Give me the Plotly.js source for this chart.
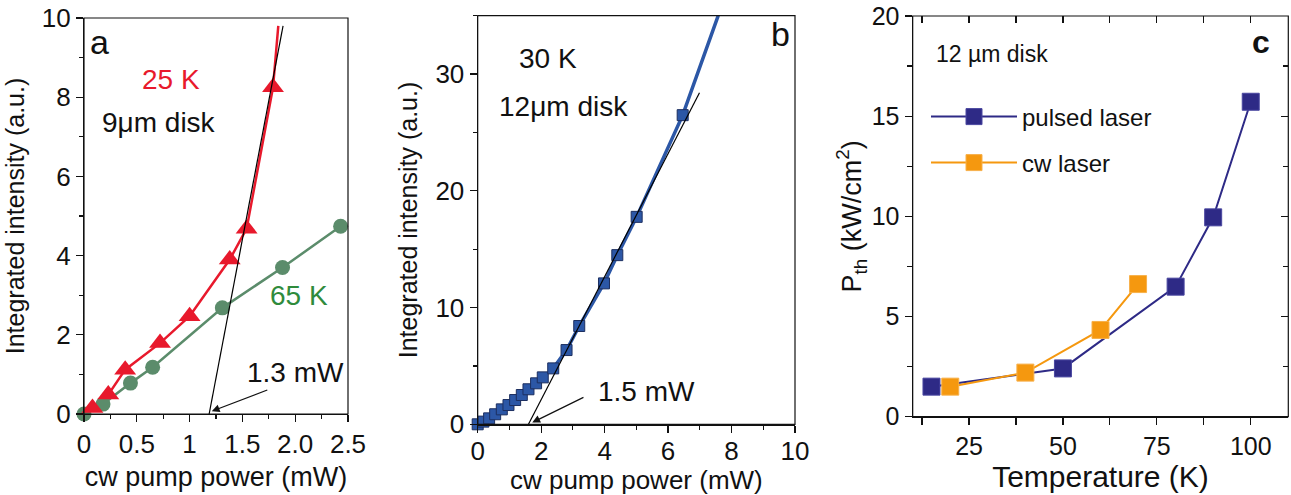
<!DOCTYPE html>
<html>
<head>
<meta charset="utf-8">
<script src="https://cdn.plot.ly/plotly-3.0.1.min.js"></script>
<style>html,body{margin:0;padding:0;background:#fff;}#chart{width:1291px;height:495px;}</style>
</head>
<body>
<div id="chart"></div>
<script>
// ---------- Panel a (9 µm disk) ----------
const a25_x = [0.08, 0.23, 0.39, 0.72, 1.0, 1.38, 1.54, 1.79];
const a25_y = [0.15, 0.49, 1.12, 1.79, 2.47, 3.9, 4.68, 8.25];
const a25_lineX = [0.08, 0.23, 0.39, 0.72, 1.0, 1.38, 1.54, 1.79, 1.84];
const a25_lineY = [0.15, 0.49, 1.12, 1.79, 2.47, 3.9, 4.68, 8.25, 9.8];
const a65_x = [0.0, 0.18, 0.44, 0.65, 1.31, 1.88, 2.43];
const a65_y = [0.0, 0.25, 0.78, 1.18, 2.68, 3.7, 4.74];
const aFit_x = [1.185, 1.885];
const aFit_y = [0.0, 9.8];
const aTickVals = [0, 0.5, 1, 1.5, 2, 2.5];
const aTickText = ['0', '0.5', '1', '1.5', '2.0', '2.5'];

// ---------- Panel b (12 µm disk, 30 K) ----------
const b_x = [0, 0.18, 0.36, 0.55, 0.76, 0.97, 1.18, 1.39, 1.6, 1.84, 2.05, 2.38, 2.8, 3.2, 3.98, 4.4, 5.01, 6.46];
const b_y = [0, 0.23, 0.51, 0.86, 1.28, 1.65, 2.08, 2.51, 3.0, 3.51, 4.02, 4.79, 6.36, 8.42, 12.07, 14.49, 17.77, 26.48];
const bCurve_x = [2.38, 2.8, 3.2, 3.98, 4.4, 5.01, 6.46, 7.58];
const bCurve_y = [4.79, 6.36, 8.42, 12.07, 14.49, 17.77, 26.48, 35.0];
const bFit_x = [1.6, 6.99];
const bFit_y = [0.0, 28.4];

// ---------- Panel c (threshold vs temperature) ----------
const cPulsed_T = [15, 50, 80, 90, 100];
const cPulsed_P = [1.5, 2.41, 6.49, 9.95, 15.72];
const cCw_T = [20, 40, 60, 70];
const cCw_P = [1.5, 2.2, 4.33, 6.62];
const cTickVals = [25, 50, 75, 100];
const cMinorVals = [12.5, 37.5, 62.5, 87.5];

const FONT = 'Liberation Sans, Arial, sans-serif';
const RED = '#e8192c', GREEN = '#5b8c6b', GREENTXT = '#2f8b3c';
const BLUE = '#2c57a6', NAVY = '#2e2a86', ORANGE = '#f5980f';
const INK = '#111';

const traces = [
  {x: a25_lineX, y: a25_lineY, xaxis: 'x', yaxis: 'y', mode: 'lines', line: {color: RED, width: 2.5}, showlegend: false},
  {x: a65_x, y: a65_y, xaxis: 'x', yaxis: 'y', mode: 'lines+markers', line: {color: GREEN, width: 2.5},
   marker: {symbol: 'circle', size: 15, color: GREEN}, showlegend: false, cliponaxis: false},
  {x: a25_x, y: a25_y, xaxis: 'x', yaxis: 'y', mode: 'markers',
   marker: {symbol: 'triangle-up', size: 19, color: RED}, showlegend: false, cliponaxis: false},
  {x: aFit_x, y: aFit_y, xaxis: 'x', yaxis: 'y', mode: 'lines', line: {color: '#000', width: 1.2}, showlegend: false},

  {x: bCurve_x, y: bCurve_y, xaxis: 'x2', yaxis: 'y2', mode: 'lines', line: {color: BLUE, width: 3.5}, showlegend: false},
  {x: b_x, y: b_y, xaxis: 'x2', yaxis: 'y2', mode: 'markers',
   marker: {symbol: 'square', size: 11, color: BLUE, line: {color: '#1d2f60', width: 1}}, showlegend: false, cliponaxis: false},
  {x: bFit_x, y: bFit_y, xaxis: 'x2', yaxis: 'y2', mode: 'lines', line: {color: '#000', width: 1.2}, showlegend: false},

  {x: cPulsed_T, y: cPulsed_P, xaxis: 'x3', yaxis: 'y3', mode: 'lines+markers', name: 'pulsed laser',
   line: {color: NAVY, width: 2}, marker: {symbol: 'square', size: 17, color: NAVY, line: {color: '#4a47a0', width: 1}},
   legend: 'legend', cliponaxis: false},
  {x: cCw_T, y: cCw_P, xaxis: 'x3', yaxis: 'y3', mode: 'lines+markers', name: 'cw laser',
   line: {color: ORANGE, width: 2}, marker: {symbol: 'square', size: 17, color: ORANGE, line: {color: '#f7b04a', width: 1}},
   legend: 'legend2', cliponaxis: false},
  // empty trace so the mirrored inside-tick axes of panel c are drawn
  {x: [], y: [], xaxis: 'x4', yaxis: 'y4', mode: 'markers', showlegend: false}
];

const W = 1291, H = 495;
const px = v => v / W;
const py = v => 1 - v / H;

const axBase = {
  showgrid: false, zeroline: false, showline: true, linecolor: INK, linewidth: 1.2,
  ticks: 'outside', ticklen: 7, tickwidth: 1.2, tickcolor: INK,
  tickfont: {family: FONT, size: 26, color: INK}
};
const minorT = (opts) => Object.assign({ticks: 'outside', ticklen: 4, tickwidth: 1.2, tickcolor: INK}, opts);

const box = (xr, yr) => ({type: 'rect', xref: xr + ' domain', yref: yr + ' domain', x0: 0, x1: 1, y0: 0, y1: 1,
  line: {color: INK, width: 1.2}, fillcolor: 'rgba(0,0,0,0)', layer: 'above'});

const layout = {
  width: W, height: H,
  margin: {l: 0, r: 0, t: 0, b: 0},
  paper_bgcolor: '#fff', plot_bgcolor: '#fff',
  font: {family: FONT, color: INK},
  showlegend: true,
  xaxis: Object.assign({}, axBase, {
    domain: [px(84), px(348)], anchor: 'y', range: [0, 2.5],
    tickmode: 'array', tickvals: aTickVals, ticktext: aTickText,
    minor: minorT({dtick: 0.25, tick0: 0}),
    title: {text: 'cw pump power (mW)', font: {family: FONT, size: 27, color: INK}, standoff: 8}
  }),
  yaxis: Object.assign({}, axBase, {
    domain: [py(414), py(18)], anchor: 'x', range: [0, 10], dtick: 2,
    minor: minorT({dtick: 1}),
    title: {text: 'Integrated intensity (a.u.)', font: {family: FONT, size: 25, color: INK}, standoff: 10}
  }),
  xaxis2: Object.assign({}, axBase, {
    domain: [px(477.7), px(795)], anchor: 'y2', range: [0, 10], dtick: 2,
    ticklabelstandoff: -4,
    minor: minorT({dtick: 1}),
    title: {text: 'cw pump power (mW)', font: {family: FONT, size: 26, color: INK}, standoff: 7}
  }),
  yaxis2: Object.assign({}, axBase, {
    domain: [py(424.3), py(15.7)], anchor: 'x2', range: [0, 35], dtick: 10,
    minor: minorT({dtick: 5}),
    title: {text: 'Integrated intensity (a.u.)', font: {family: FONT, size: 25, color: INK}, standoff: 10}
  }),
  xaxis3: Object.assign({}, axBase, {
    domain: [px(912.7), px(1288.3)], anchor: 'y3', range: [10, 110],
    tickmode: 'array', tickvals: cTickVals,
    minor: minorT({tickvals: cMinorVals, ticklen: 7}),
    tickfont: {family: FONT, size: 25, color: INK},
    title: {text: 'Temperature (K)', font: {family: FONT, size: 30, color: INK}, standoff: 6}
  }),
  yaxis3: Object.assign({}, axBase, {
    domain: [py(416.7), py(16)], anchor: 'x3', range: [0, 20], dtick: 5,
    minor: minorT({dtick: 2.5, ticklen: 5}),
    tickfont: {family: FONT, size: 25, color: INK},
    title: {text: 'P<sub>th</sub> (kW/cm<sup>2</sup>)', font: {family: FONT, size: 27, color: INK}, standoff: 2}
  }),
  xaxis4: {
    overlaying: 'x3', anchor: 'y4', side: 'top', range: [10, 110], showgrid: false, zeroline: false, showline: false,
    tickmode: 'array', tickvals: cTickVals, ticks: 'inside', ticklen: 7, tickwidth: 1.2, tickcolor: INK, showticklabels: false,
    minor: {tickvals: cMinorVals, ticks: 'inside', ticklen: 7, tickwidth: 1.2, tickcolor: INK}
  },
  yaxis4: {
    overlaying: 'y3', anchor: 'x4', side: 'right', range: [0, 20], showgrid: false, zeroline: false, showline: false,
    dtick: 5, ticks: 'inside', ticklen: 7, tickwidth: 1.2, tickcolor: INK, showticklabels: false,
    minor: {dtick: 2.5, ticks: 'inside', ticklen: 5, tickwidth: 1.2, tickcolor: INK}
  },
  legend: {
    x: px(926), y: py(117), xanchor: 'left', yanchor: 'middle', bgcolor: 'rgba(0,0,0,0)',
    font: {family: FONT, size: 24, color: INK}, itemwidth: 86
  },
  legend2: {
    x: px(926), y: py(163), xanchor: 'left', yanchor: 'middle', bgcolor: 'rgba(0,0,0,0)',
    font: {family: FONT, size: 24, color: INK}, itemwidth: 86
  },
  shapes: [box('x', 'y'), box('x2', 'y2'), box('x3', 'y3')],
  annotations: [
    {xref: 'x', yref: 'y', x: 0.15, y: 9.4, text: 'a', showarrow: false, font: {family: FONT, size: 34, color: INK}},
    {xref: 'x', yref: 'y', x: 0.82, y: 8.44, text: '25 K', showarrow: false, font: {family: FONT, size: 28, color: RED}},
    {xref: 'x', yref: 'y', x: 0.71, y: 7.35, text: '9μm disk', showarrow: false, font: {family: FONT, size: 28, color: INK}},
    {xref: 'x', yref: 'y', x: 2.04, y: 3.0, text: '65 K', showarrow: false, font: {family: FONT, size: 28, color: GREENTXT}},
    {xref: 'x', yref: 'y', x: 2.0, y: 1.05, text: '1.3 mW', showarrow: false, font: {family: FONT, size: 28, color: INK}},
    {xref: 'x', yref: 'y', axref: 'x', ayref: 'y', x: 1.21, y: 0.07, ax: 1.75, ay: 0.62, text: '', showarrow: true,
     arrowhead: 2, arrowsize: 1.3, arrowwidth: 1.2, arrowcolor: INK},

    {xref: 'x2', yref: 'y2', x: 9.53, y: 33.4, text: 'b', showarrow: false, font: {family: FONT, size: 34, color: INK}},
    {xref: 'x2', yref: 'y2', x: 2.23, y: 31.3, text: '30 K', showarrow: false, font: {family: FONT, size: 28, color: INK}},
    {xref: 'x2', yref: 'y2', x: 2.7, y: 27.2, text: '12μm disk', showarrow: false, font: {family: FONT, size: 28, color: INK}},
    {xref: 'x2', yref: 'y2', x: 5.33, y: 2.8, text: '1.5 mW', showarrow: false, font: {family: FONT, size: 28, color: INK}},
    {xref: 'x2', yref: 'y2', axref: 'x2', ayref: 'y2', x: 1.72, y: 0.15, ax: 3.38, ay: 2.37, text: '', showarrow: true,
     arrowhead: 2, arrowsize: 1.3, arrowwidth: 1.2, arrowcolor: INK},

    {xref: 'x3', yref: 'y3', x: 102.6, y: 18.7, text: '<b>c</b>', showarrow: false, font: {family: FONT, size: 32, color: INK}},
    {xref: 'x3', yref: 'y3', x: 31.0, y: 18.1, text: '12 µm disk', showarrow: false, font: {family: FONT, size: 23, color: INK}}
  ]
};

Plotly.newPlot('chart', traces, layout, {displayModeBar: false, staticPlot: true});
</script>
</body>
</html>
